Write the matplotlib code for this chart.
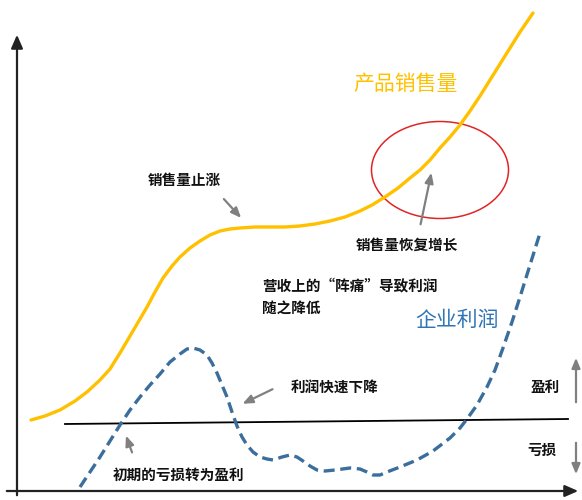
import matplotlib
matplotlib.use("Agg")
import matplotlib.pyplot as plt
from matplotlib.patches import Ellipse

plt.rcParams['font.family'] = ['Noto Sans CJK SC', 'DejaVu Sans']

# product sales curve (pixel-like units, y grows downward)
salesX = [31, 45, 60, 75, 87, 100, 110, 120, 130, 140, 147, 155, 163, 172, 180, 190, 200, 210, 220, 230, 240,
          255, 270, 285, 300, 315, 330, 345, 360, 372, 385, 398, 410, 420, 430, 440, 450, 460, 470, 480, 490,
          500, 510, 520, 533]
salesY = [420, 416, 410, 401, 392, 380, 369, 353, 336, 319, 307, 292, 278, 266, 257, 248, 241, 235, 231, 229, 228,
          227, 227, 227, 226, 224, 221, 217, 211, 205, 197, 188, 178, 170, 160, 148, 137, 125, 111, 96, 80,
          64, 48, 32, 13]

# corporate profit curve
profitX = [80, 90, 100, 110, 120, 130, 140, 150, 160, 170, 180, 187, 193, 200, 207, 212, 217, 222, 227, 232,
           237, 242, 247, 253, 260, 267, 273, 282, 290, 297, 303, 310, 317, 325, 335, 350, 360, 367, 373, 380,
           387, 400, 417, 433, 450, 460, 467, 477, 487, 495, 503, 512, 520, 530, 540]
profitY = [487, 472, 457, 441, 425, 410, 397, 385, 374, 362, 354, 349, 348, 350, 355, 363, 373, 385, 397, 412,
           426, 437, 445, 452, 457, 459, 460, 457, 455, 457, 461, 466, 470, 471, 470, 468, 469, 472, 475, 475,
           472, 467, 460, 451, 438, 428, 419, 405, 387, 370, 348, 322, 297, 265, 233]

breakX = [65, 568]
breakY = [424, 419]

salesColor = '#FFC000'
profitColor = '#3B6E9C'
arrowGray = '#808080'

fig = plt.figure(figsize=(5.82, 5.00), dpi=100)
ax = fig.add_axes([0, 0, 1, 1])
ax.set_xlim(0, 582)
ax.set_ylim(500, 0)
ax.axis('off')

# axes with arrow heads
ax.annotate('', xy=(17, 32), xytext=(17, 498),
            arrowprops=dict(arrowstyle='-|>,head_length=0.8,head_width=0.35', color='#222222', lw=1.6))
ax.annotate('', xy=(581, 491), xytext=(4, 491),
            arrowprops=dict(arrowstyle='-|>,head_length=0.8,head_width=0.35', color='#222222', lw=1.6))

ax.plot(breakX, breakY, color='black', lw=1.3)
ax.plot(salesX, salesY, color=salesColor, lw=2.4, solid_capstyle='round', solid_joinstyle='round')
ax.plot(profitX, profitY, color=profitColor, lw=2.4, dashes=(3.3, 1.7))

ax.add_patch(Ellipse((440, 170), 137, 97, fill=False, edgecolor='#E02525', lw=1.1))

def grayArrow(x0, y0, x1, y1):
    ax.annotate('', xy=(x1, y1), xytext=(x0, y0),
                arrowprops=dict(arrowstyle='-|>,head_length=0.6,head_width=0.25', color=arrowGray, lw=1.6))

grayArrow(222, 197, 243, 220)
grayArrow(420, 227, 432, 170)
grayArrow(275, 388, 240, 405)
grayArrow(133, 455, 125, 433)
grayArrow(576, 405, 576, 355)
grayArrow(576, 440, 576, 477)

ax.text(406, 84, '产品销售量', color=salesColor, fontsize=15, ha='center', va='center')
ax.text(457, 320, '企业利润', color='#2E75B6', fontsize=15, ha='center', va='center')

labelStyle = dict(color='#111111', fontsize=10.5, fontweight='bold', va='center')
ax.text(184, 180, '销售量止涨', ha='center', **labelStyle)
ax.text(407, 245, '销售量恢复增长', ha='center', **labelStyle)
ax.text(262, 285, '营收上的“阵痛”导致利润', ha='left', **labelStyle)
ax.text(262, 309, '随之降低', ha='left', **labelStyle)
ax.text(335, 388, '利润快速下降', ha='center', **labelStyle)
ax.text(178, 475, '初期的亏损转为盈利', ha='center', **labelStyle)
ax.text(545, 387, '盈利', ha='center', **labelStyle)
ax.text(542, 450, '亏损', ha='center', **labelStyle)

fig.savefig('out.png', dpi=100)
